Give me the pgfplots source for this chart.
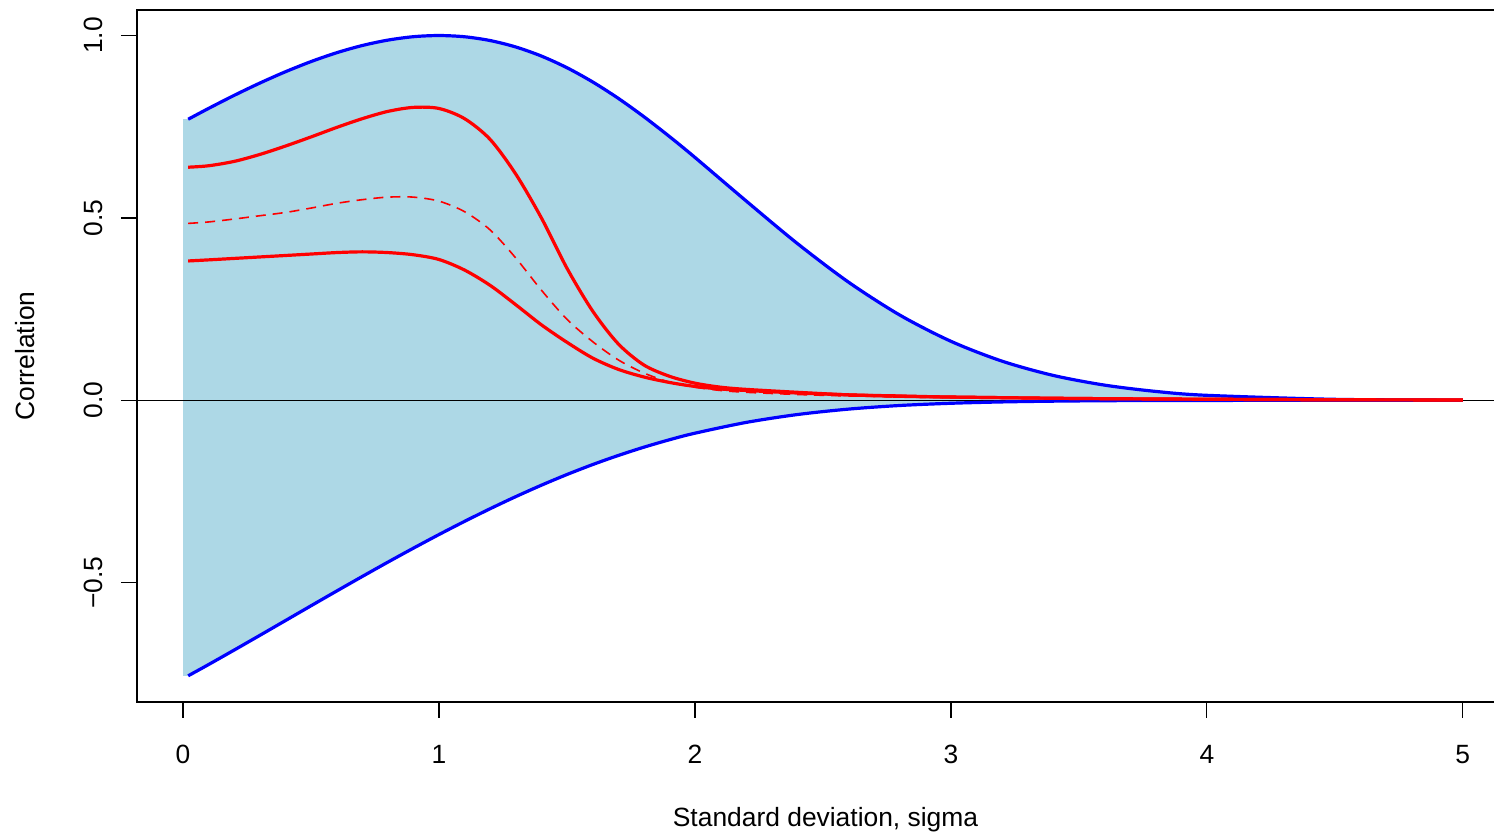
\documentclass[border=0pt]{standalone}
\usepackage{fontspec}
\setmainfont{Liberation Sans}
\usepackage{pgfplots}
\pgfplotsset{compat=1.18}
\definecolor{lightblue}{RGB}{173,216,230}
\newcommand{\rfont}{\fontsize{13.2}{16}\selectfont}

% blue bounds: upper and lower attainable correlation
\pgfplotstableread{
s upper lower
0.02 0.7705 -0.7552
0.1 0.8003 -0.7242
0.2 0.8361 -0.6845
0.3 0.8697 -0.6443
0.4 0.9007 -0.6038
0.5 0.9286 -0.5632
0.6 0.9528 -0.5229
0.7 0.9726 -0.4830
0.8 0.9874 -0.4437
0.9 0.9968 -0.4053
1.0 1.0000 -0.3679
1.1 0.9966 -0.3318
1.2 0.9862 -0.2971
1.3 0.9686 -0.2640
1.4 0.9437 -0.2327
1.5 0.9117 -0.2034
1.6 0.8729 -0.1762
1.7 0.8280 -0.1513
1.8 0.7777 -0.1286
1.9 0.7233 -0.1082
2.0 0.6658 -0.0901
2.2 0.5465 -0.0606
2.4 0.4299 -0.0390
2.6 0.3239 -0.0241
2.8 0.2338 -0.0142
3.0 0.1618 -0.0081
3.2 0.1073 -0.0044
3.4 0.0682 -0.0023
3.6 0.0417 -0.0011
3.8 0.0244 -0.0005
4.0 0.0137 -0.0003
4.5 0.0027 0.0000
5.0 0.0004 0.0000
}\bounds

\pgfplotstableread{
s rho
0.02 0.639
0.1 0.643
0.2 0.655
0.3 0.674
0.4 0.697
0.5 0.722
0.6 0.748
0.7 0.772
0.8 0.792
0.9 0.803
1.0 0.800
1.1 0.772
1.2 0.715
1.3 0.620
1.4 0.500
1.5 0.362
1.6 0.245
1.7 0.155
1.8 0.097
1.9 0.066
2.0 0.047
2.1 0.036
2.2 0.030
2.4 0.022
2.6 0.015
2.8 0.012
3.0 0.009
3.5 0.005
4.0 0.003
4.5 0.0015
5.0 0.001
}\redhi

\pgfplotstableread{
s rho
0.02 0.382
0.1 0.385
0.2 0.389
0.3 0.393
0.4 0.397
0.5 0.401
0.6 0.405
0.7 0.407
0.8 0.405
0.9 0.399
1.0 0.386
1.1 0.357
1.2 0.315
1.3 0.262
1.4 0.207
1.5 0.159
1.6 0.116
1.7 0.085
1.8 0.064
1.9 0.049
2.0 0.038
2.1 0.031
2.2 0.027
2.4 0.020
2.6 0.015
2.8 0.011
3.0 0.009
3.5 0.005
4.0 0.003
4.5 0.0015
5.0 0.001
}\redlo

\pgfplotstableread{
s rho
0.02 0.485
0.1 0.489
0.2 0.497
0.3 0.506
0.4 0.515
0.5 0.527
0.6 0.540
0.7 0.550
0.8 0.557
0.9 0.557
1.0 0.546
1.1 0.517
1.2 0.467
1.3 0.390
1.4 0.302
1.5 0.222
1.6 0.161
1.7 0.111
1.8 0.075
1.9 0.050
2.0 0.036
2.1 0.027
2.2 0.022
2.4 0.016
2.6 0.012
3.0 0.007
3.5 0.005
4.0 0.003
5.0 0.001
}\redmid

\begin{document}
\begin{tikzpicture}
\begin{axis}[
  scale only axis,
  width=688.5pt,height=346pt,
  xmin=-0.18,xmax=5.2,
  ymin=-0.827,ymax=1.070,
  axis line style={line width=0.6pt},
  tick style={black,line width=0.6pt},
  tick align=outside,
  xtick pos=bottom,ytick pos=left,
  major tick length=8pt,
  xtick={0,1,2,3,4,5},
  ytick={-0.5,0,0.5,1},
  yticklabels={−0.5,0.0,0.5,1.0},
  /pgf/number format/assume math mode=true,
  xticklabel style={font=\rfont,anchor=north,inner sep=0pt},
  xticklabel shift=13.5pt,
  yticklabel style={font=\rfont,rotate=90,anchor=south,inner sep=0pt},
  yticklabel shift=9pt,
  xlabel={Standard deviation, sigma},
  ylabel={Correlation},
  xlabel style={font=\rfont,at={(axis description cs:0.5,-0.1801)},anchor=base,inner sep=0pt},
  ylabel style={font=\rfont,at={(axis description cs:-0.0741,0.5)},anchor=base,inner sep=0pt},
]
% shaded region between bounds
\addplot[fill=lightblue,draw=none] coordinates {
(0,0.7705) (0.02,0.7705) (0.1,0.8003) (0.2,0.8361) (0.3,0.8697) (0.4,0.9007)
(0.5,0.9286) (0.6,0.9528) (0.7,0.9726) (0.8,0.9874) (0.9,0.9968) (1.0,1.0)
(1.1,0.9966) (1.2,0.9862) (1.3,0.9686) (1.4,0.9437) (1.5,0.9117) (1.6,0.8729)
(1.7,0.8280) (1.8,0.7777) (1.9,0.7233) (2.0,0.6658) (2.2,0.5465) (2.4,0.4299)
(2.6,0.3239) (2.8,0.2338) (3.0,0.1618) (3.2,0.1073) (3.4,0.0682) (3.6,0.0417)
(3.8,0.0244) (4.0,0.0137) (4.5,0.0027) (5.0,0.0004)
(5.0,0.0) (4.5,0.0) (4.0,-0.0003) (3.8,-0.0005) (3.6,-0.0011) (3.4,-0.0023)
(3.2,-0.0044) (3.0,-0.0081) (2.8,-0.0142) (2.6,-0.0241) (2.4,-0.0390) (2.2,-0.0606)
(2.0,-0.0901) (1.9,-0.1082) (1.8,-0.1286) (1.7,-0.1513) (1.6,-0.1762) (1.5,-0.2034)
(1.4,-0.2327) (1.3,-0.2640) (1.2,-0.2971) (1.1,-0.3318) (1.0,-0.3679) (0.9,-0.4053)
(0.8,-0.4437) (0.7,-0.4830) (0.6,-0.5229) (0.5,-0.5632) (0.4,-0.6038) (0.3,-0.6443)
(0.2,-0.6845) (0.1,-0.7242) (0.02,-0.7552) (0,-0.7552)
} -- cycle;
\addplot[black,line width=0.5pt] coordinates {(-0.18,0) (5.2,0)};
\addplot[blue,line width=1.6pt,smooth] table[x=s,y=upper] {\bounds};
\addplot[blue,line width=1.6pt,smooth] table[x=s,y=lower] {\bounds};
\addplot[red,line width=1.6pt,smooth] table[x=s,y=rho] {\redhi};
\addplot[red,line width=1.6pt,smooth] table[x=s,y=rho] {\redlo};
\addplot[red,line width=0.8pt,smooth,dash pattern=on 5pt off 3.5pt] table[x=s,y=rho] {\redmid};
\end{axis}
\pgfresetboundingbox
\path[use as bounding box] ([xshift=-68.5pt,yshift=-66.5pt]current axis.south west) rectangle ([xshift=-10pt,yshift=5pt]current axis.north east);
\end{tikzpicture}
\end{document}
